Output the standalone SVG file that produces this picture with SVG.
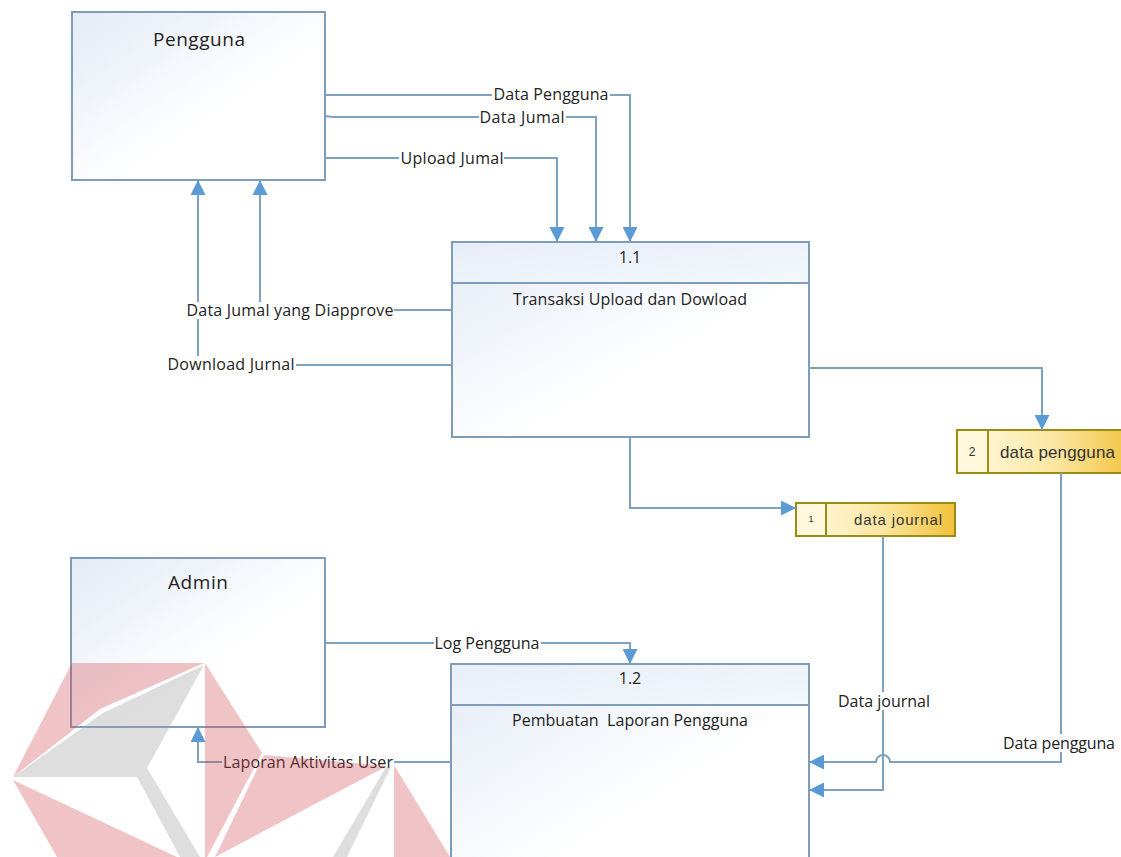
<svg xmlns="http://www.w3.org/2000/svg" width="1121" height="857" viewBox="0 0 1121 857">
<defs>
<linearGradient id="boxg" x1="0" y1="0" x2="1" y2="1">
<stop offset="0" stop-color="#e3ebf6"/>
<stop offset="0.6" stop-color="#ffffff"/>
<stop offset="1" stop-color="#ffffff"/>
</linearGradient>
<linearGradient id="hdrg" x1="0" y1="0" x2="1" y2="1">
<stop offset="0" stop-color="#e6eef8"/>
<stop offset="1" stop-color="#f4f8fc"/>
</linearGradient>
<linearGradient id="storeg" x1="0" y1="0" x2="1" y2="0">
<stop offset="0" stop-color="#fffbe6"/>
<stop offset="0.55" stop-color="#fbe6a0"/>
<stop offset="1" stop-color="#f2c13a"/>
</linearGradient>
<marker id="arr" viewBox="0 0 10 10" refX="10" refY="5" markerWidth="15" markerHeight="15" markerUnits="userSpaceOnUse" orient="auto">
<path d="M0,0 L10,5 L0,10 z" fill="#5b9bd5"/>
</marker>
<style>
.box{fill:url(#boxg);stroke:#7f9dbb;stroke-width:2}
.hdr{fill:url(#hdrg);stroke:#7f9dbb;stroke-width:2}
.conn{fill:none;stroke:#7ea1c2;stroke-width:2;marker-end:url(#arr)}
.lbl{font-family:"Open Sans","Liberation Sans",sans-serif;font-size:16px;fill:#222;text-anchor:middle;dominant-baseline:central}
.ttl{font-family:"Open Sans","Liberation Sans",sans-serif;font-size:19px;fill:#222;text-anchor:middle}
.bg{fill:#ffffff}
.store{fill:url(#storeg);stroke:#9c8c14;stroke-width:2}
.cell{fill:#fff8dc;stroke:#9c8c14;stroke-width:2}
.stxt{font-family:"Liberation Sans",Arial,sans-serif;fill:#333;dominant-baseline:central}
.wr{fill:#d24a52;opacity:0.33}
.wg{fill:#a0a0a0;opacity:0.35}
</style>
</defs>
<rect width="1121" height="857" fill="#ffffff"/>

<g id="pengguna">
<rect class="box" x="72" y="12" width="253" height="168"/>
<text class="ttl" x="199" y="46" textLength="92" lengthAdjust="spacing">Pengguna</text>
</g>

<g id="admin">
<rect class="box" x="71" y="558" width="254" height="169"/>
<text class="ttl" x="198" y="589" textLength="60" lengthAdjust="spacing">Admin</text>
</g>

<g id="p11">
<rect class="box" x="452" y="242" width="357" height="195"/>
<rect class="hdr" x="452" y="242" width="357" height="41"/>
<text class="lbl" x="630" y="257">1.1</text>
<text class="lbl" x="630" y="299" textLength="234" lengthAdjust="spacing">Transaksi Upload dan Dowload</text>
</g>

<g id="p12">
<rect class="box" x="451" y="664" width="358" height="220"/>
<rect class="hdr" x="451" y="664" width="358" height="41"/>
<text class="lbl" x="630" y="678">1.2</text>
<text class="lbl" x="630" y="720" xml:space="preserve" textLength="236" lengthAdjust="spacing">Pembuatan  Laporan Pengguna</text>
</g>

<g id="store2">
<rect class="store" x="957" y="430" width="180" height="43"/>
<rect class="cell" x="957" y="430" width="31" height="43"/>
<text class="stxt" x="972" y="452" font-size="12" text-anchor="middle">2</text>
<text class="stxt" x="1000" y="452" font-size="17" textLength="115" lengthAdjust="spacing">data pengguna</text>
</g>

<g id="store1">
<rect class="store" x="796" y="503" width="159" height="33"/>
<rect class="cell" x="796" y="503" width="30" height="33"/>
<text class="stxt" x="811" y="519" font-size="9" text-anchor="middle">1</text>
<text class="stxt" x="854" y="519" font-size="15" textLength="88" lengthAdjust="spacing">data journal</text>
</g>

<g id="connectors">
<path class="conn" d="M325,95 H630 V242"/>
<path class="conn" d="M325,116 L333,117 H596 V242"/>
<path class="conn" d="M325,158 H557 V242"/>
<path class="conn" d="M452,310 H260 V180"/>
<path class="conn" d="M452,365 H198 V180"/>
<path class="conn" d="M809,368 H1042 V430"/>
<path class="conn" d="M630,437 V508 H796"/>
<path class="conn" d="M325,643 H630 V664"/>
<path class="conn" d="M451,762 H198 V727"/>
<path class="conn" d="M883,536 V790 H809"/>
<path class="conn" d="M1061,473 V762 H890 A7,7 0 0 0 876,762 H809"/>

<rect class="bg" x="492" y="86" width="118" height="17"/>
<text class="lbl" x="551" y="94" textLength="115" lengthAdjust="spacing">Data Pengguna</text>
<rect class="bg" x="479" y="109" width="87" height="17"/>
<text class="lbl" x="522" y="117" textLength="85" lengthAdjust="spacing">Data Jumal</text>
<rect class="bg" x="399" y="150" width="105" height="17"/>
<text class="lbl" x="452" y="158" textLength="103" lengthAdjust="spacing">Upload Jumal</text>
<rect class="bg" x="185" y="302" width="209" height="17"/>
<text class="lbl" x="290" y="310" textLength="207" lengthAdjust="spacing">Data Jumal yang Diapprove</text>
<rect class="bg" x="167" y="356" width="129" height="17"/>
<text class="lbl" x="231" y="364" textLength="127" lengthAdjust="spacing">Download Jurnal</text>
<rect class="bg" x="434" y="635" width="107" height="17"/>
<text class="lbl" x="487" y="643" textLength="105" lengthAdjust="spacing">Log Pengguna</text>
<rect class="bg" x="222" y="754" width="172" height="17"/>
<text class="lbl" x="308" y="762" textLength="170" lengthAdjust="spacing">Laporan Aktivitas User</text>
<rect class="bg" x="836" y="692" width="96" height="18"/>
<text class="lbl" x="884" y="701" textLength="92" lengthAdjust="spacing">Data journal</text>
<rect class="bg" x="1001" y="734" width="116" height="18"/>
<text class="lbl" x="1059" y="743" textLength="112" lengthAdjust="spacing">Data pengguna</text>
</g>

<g id="watermark">
<polygon class="wr" points="72,663 204,663 100,709 13,777"/>
<polygon class="wg" points="204,665 147,768 200,857 180,857 137,777 13,777 103,713"/>
<polygon class="wr" points="13,780 177,857 57,857"/>
<polygon class="wr" points="205,663 262,753 207,857 205,857"/>
<polygon class="wr" points="264,755 387,766 215,857"/>
<polygon class="wg" points="386,767 391,767 347,857 333,857"/>
<polygon class="wr" points="394,765 450,857 394,857"/>
</g>
</svg>
